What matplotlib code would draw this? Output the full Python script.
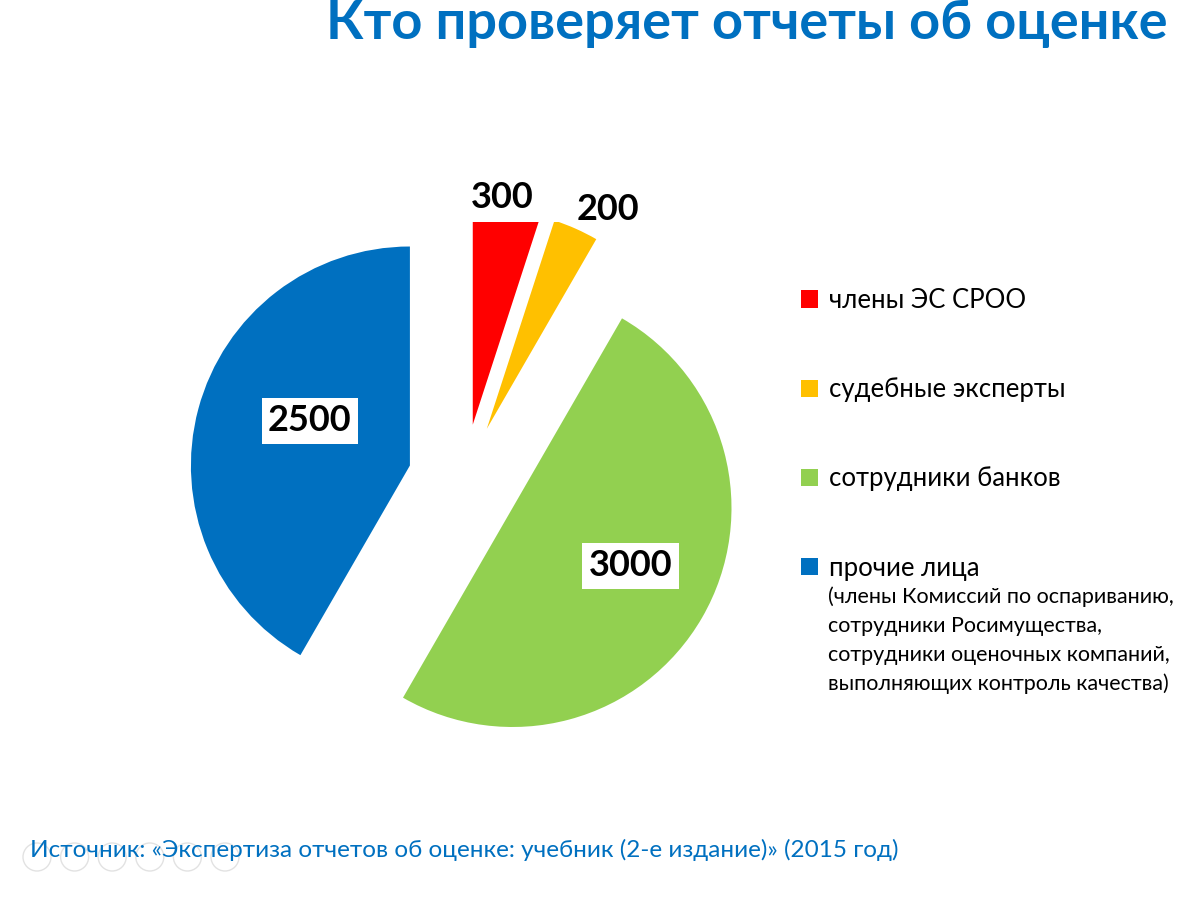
import matplotlib
matplotlib.use("Agg")
import matplotlib.pyplot as plt
from matplotlib.patches import Patch, Circle, Rectangle
import numpy as np

categories = ["члены ЭС СРОО", "судебные эксперты", "сотрудники банков", "прочие лица"]
values = [300, 200, 3000, 2500]
colors = ["#FF0000", "#FFC000", "#92D050", "#0070C0"]
value_labels = ["300", "200", "3000", "2500"]
note_lines = ["(члены Комиссий по оспариванию,",
              "сотрудники Росимущества,",
              "сотрудники оценочных компаний,",
              "выполняющих контроль качества)"]
title = "Кто проверяет отчеты об оценке"
source = "Источник: «Экспертиза отчетов об оценке: учебник (2-е издание)» (2015 год)"

FONT = ["Lato", "DejaVu Sans"]
plt.rcParams['font.family'] = FONT

W, H = 1194, 900
fig = plt.figure(figsize=(W / 100, H / 100), dpi=100)
fig.patch.set_facecolor("white")

# pie axes in pixel units
ax = fig.add_axes([0, 0, 1, 1])
ax.axis("off")

top = 222  # slices are cut flat at this height (px from top)
cx, cy = 464, H - 480
R = 219
expl = 56
wedges, _ = ax.pie(values, colors=colors, startangle=90, counterclock=False,
                   center=(cx, cy), radius=R, explode=[expl] * 4,
                   wedgeprops=dict(linewidth=0), frame=True)
ax.set_xlim(0, W)
ax.set_ylim(0, H)
ax.set_aspect("auto")
ax.axis("off")
clip = Rectangle((0, 0), W, H - top, transform=ax.transData)
for w in wedges:
    w.set_clip_on(True)
    w.set_clip_path(clip)

# label placement: (distance factor, angle offset deg, boxed)
lab_cfg = [(1.045, 1.5, False), (1.145, -5, False), (0.6, 4, True), (0.5, -9, True)]
for w, lab, (d, off, boxed) in zip(wedges, value_labels, lab_cfg):
    tm = np.deg2rad((w.theta1 + w.theta2) / 2 + off)
    x = w.center[0] + d * R * np.cos(tm)
    y = w.center[1] + d * R * np.sin(tm)
    kw = dict(ha="center", va="center", fontsize=26, fontweight="bold",
              color="black", clip_on=False, family=FONT)
    if boxed:
        kw["bbox"] = dict(boxstyle="square,pad=0.18", fc="white", ec="none")
    ax.text(x, y, lab, **kw)

# title
fig.text(1168 / W, 1 - 24 / H, title, ha="right", va="center", fontsize=39,
         fontweight="bold", color="#0070C0")

# legend
handles = [Patch(facecolor=c, edgecolor="none") for c in colors]
leg = fig.legend(handles, categories, loc="upper left",
                 bbox_to_anchor=(801 / W, 1 - 288 / H), frameon=False,
                 fontsize=18.5, handlelength=0.65, handleheight=0.65,
                 handletextpad=0.45, labelspacing=2.5, borderpad=0,
                 borderaxespad=0)
for i, line in enumerate(note_lines):
    fig.text(828 / W, 1 - (597 + 29 * i) / H, line, ha="left", va="center",
             fontsize=15.5, color="black")

# source
fig.text(30 / W, 1 - 850 / H, source, ha="left", va="center", fontsize=17.5,
         color="#0070C0")

# faint slideshow navigation circles
for i in range(6):
    fig.patches.append(Circle(((37 + 37.6 * i) / 100, (H - 857) / 100), 0.14,
                              transform=fig.dpi_scale_trans, fill=False,
                              ec="#e2e2e2", lw=1))

fig.savefig("out.png", dpi=100, facecolor="white")
